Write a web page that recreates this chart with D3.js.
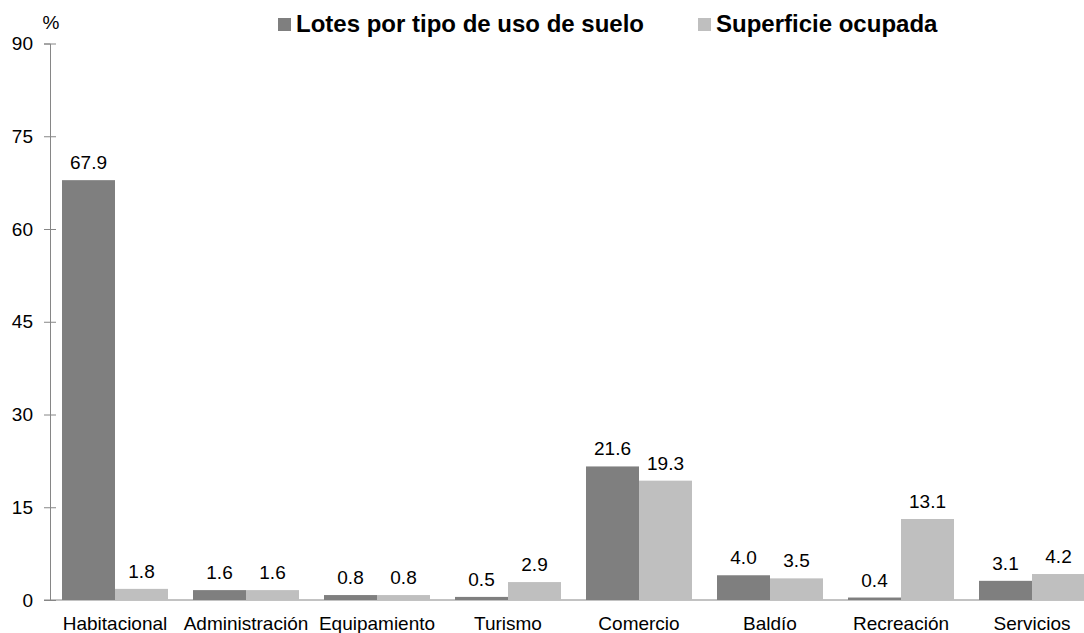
<!DOCTYPE html>
<html>
<head>
<meta charset="utf-8">
<script src="https://cdn.jsdelivr.net/npm/d3@7"></script>
<style>
  body { margin: 0; background: #fff; }
  svg { display: block; font-family: "Liberation Sans", Arial, sans-serif; }
</style>
</head>
<body>
<div class="chart"></div>
<script>
var width = 1084, height = 633;

var categories = ["Habitacional", "Administración", "Equipamiento", "Turismo",
  "Comercio", "Baldío", "Recreación", "Servicios"];
var seriesNames = ["Lotes por tipo de uso de suelo", "Superficie ocupada"];
var lotes = [67.9, 1.6, 0.8, 0.5, 21.6, 4.0, 0.4, 3.1];
var superficie = [1.8, 1.6, 0.8, 2.9, 19.3, 3.5, 13.1, 4.2];
var yTicks = [0, 15, 30, 45, 60, 75, 90];

var colors = ["#7f7f7f", "#bfbfbf"];

var data = categories.map(function (c, i) {
  return { name: c, values: [lotes[i], superficie[i]] };
});

var svg = d3.select('.chart').append('svg')
  .attr("width", width)
  .attr("height", height);

// scales
var x0 = d3.scaleBand()
  .domain(categories)
  .range([49.5, 1097.5])
  .padding(0);

var x1 = d3.scaleBand()
  .domain([0, 1])
  .range([0, x0.bandwidth()])
  .paddingInner(0)
  .paddingOuter(0.236);

var y = d3.scaleLinear()
  .domain([0, 90])
  .range([600, 43.5]);

// y axis
var yAxis = d3.axisLeft(y)
  .tickValues(yTicks)
  .tickSize(6)
  .tickPadding(11);

var gy = svg.append("g")
  .attr("transform", "translate(50,0)")
  .call(yAxis);
gy.select(".domain").attr("stroke", "#868686");
gy.selectAll(".tick line").attr("x1", -6).attr("x2", 6).attr("stroke", "#868686");
gy.selectAll(".tick text")
  .style("font-size", "19px")
  .attr("fill", "#000");

// x axis line
svg.append("line")
  .attr("x1", 44).attr("x2", width)
  .attr("y1", y(0)).attr("y2", y(0))
  .attr("stroke", "#868686");

// bars
var groups = svg.selectAll(".grp")
  .data(data)
  .enter().append("g")
  .attr("class", "grp")
  .attr("transform", function (d) { return "translate(" + x0(d.name) + ",0)"; });

groups.selectAll("rect")
  .data(function (d) { return d.values; })
  .enter().append("rect")
  .attr("x", function (d, i) { return x1(i); })
  .attr("y", function (d) { return y(d); })
  .attr("width", x1.bandwidth())
  .attr("height", function (d) { return y(0) - y(d); })
  .attr("fill", function (d, i) { return colors[i]; });

groups.selectAll(".val")
  .data(function (d) { return d.values; })
  .enter().append("text")
  .attr("class", "val")
  .attr("x", function (d, i) { return x1(i) + x1.bandwidth() / 2; })
  .attr("y", function (d) { return y(d) - 11; })
  .attr("text-anchor", "middle")
  .style("font-size", "19px")
  .text(function (d) { return d3.format(".1f")(d); });

// category labels
svg.selectAll(".cat")
  .data(categories)
  .enter().append("text")
  .attr("class", "cat")
  .attr("x", function (d) { return x0(d) + x0.bandwidth() / 2; })
  .attr("y", 630)
  .attr("text-anchor", "middle")
  .style("font-size", "19px")
  .text(function (d) { return d; });

// unit label
svg.append("text")
  .attr("x", 51)
  .attr("y", 29)
  .attr("text-anchor", "middle")
  .style("font-size", "19px")
  .text("%");

// legend
var legendX = [278, 698];
var legend = svg.selectAll(".legend")
  .data(seriesNames)
  .enter().append("g")
  .attr("class", "legend")
  .attr("transform", function (d, i) { return "translate(" + legendX[i] + ",0)"; });

legend.append("rect")
  .attr("x", 0).attr("y", 18)
  .attr("width", 13).attr("height", 13)
  .attr("fill", function (d, i) { return colors[i]; });

legend.append("text")
  .attr("x", 18)
  .attr("y", 32)
  .style("font-size", "24px")
  .style("font-weight", "bold")
  .text(function (d) { return d; });
</script>
</body>
</html>
